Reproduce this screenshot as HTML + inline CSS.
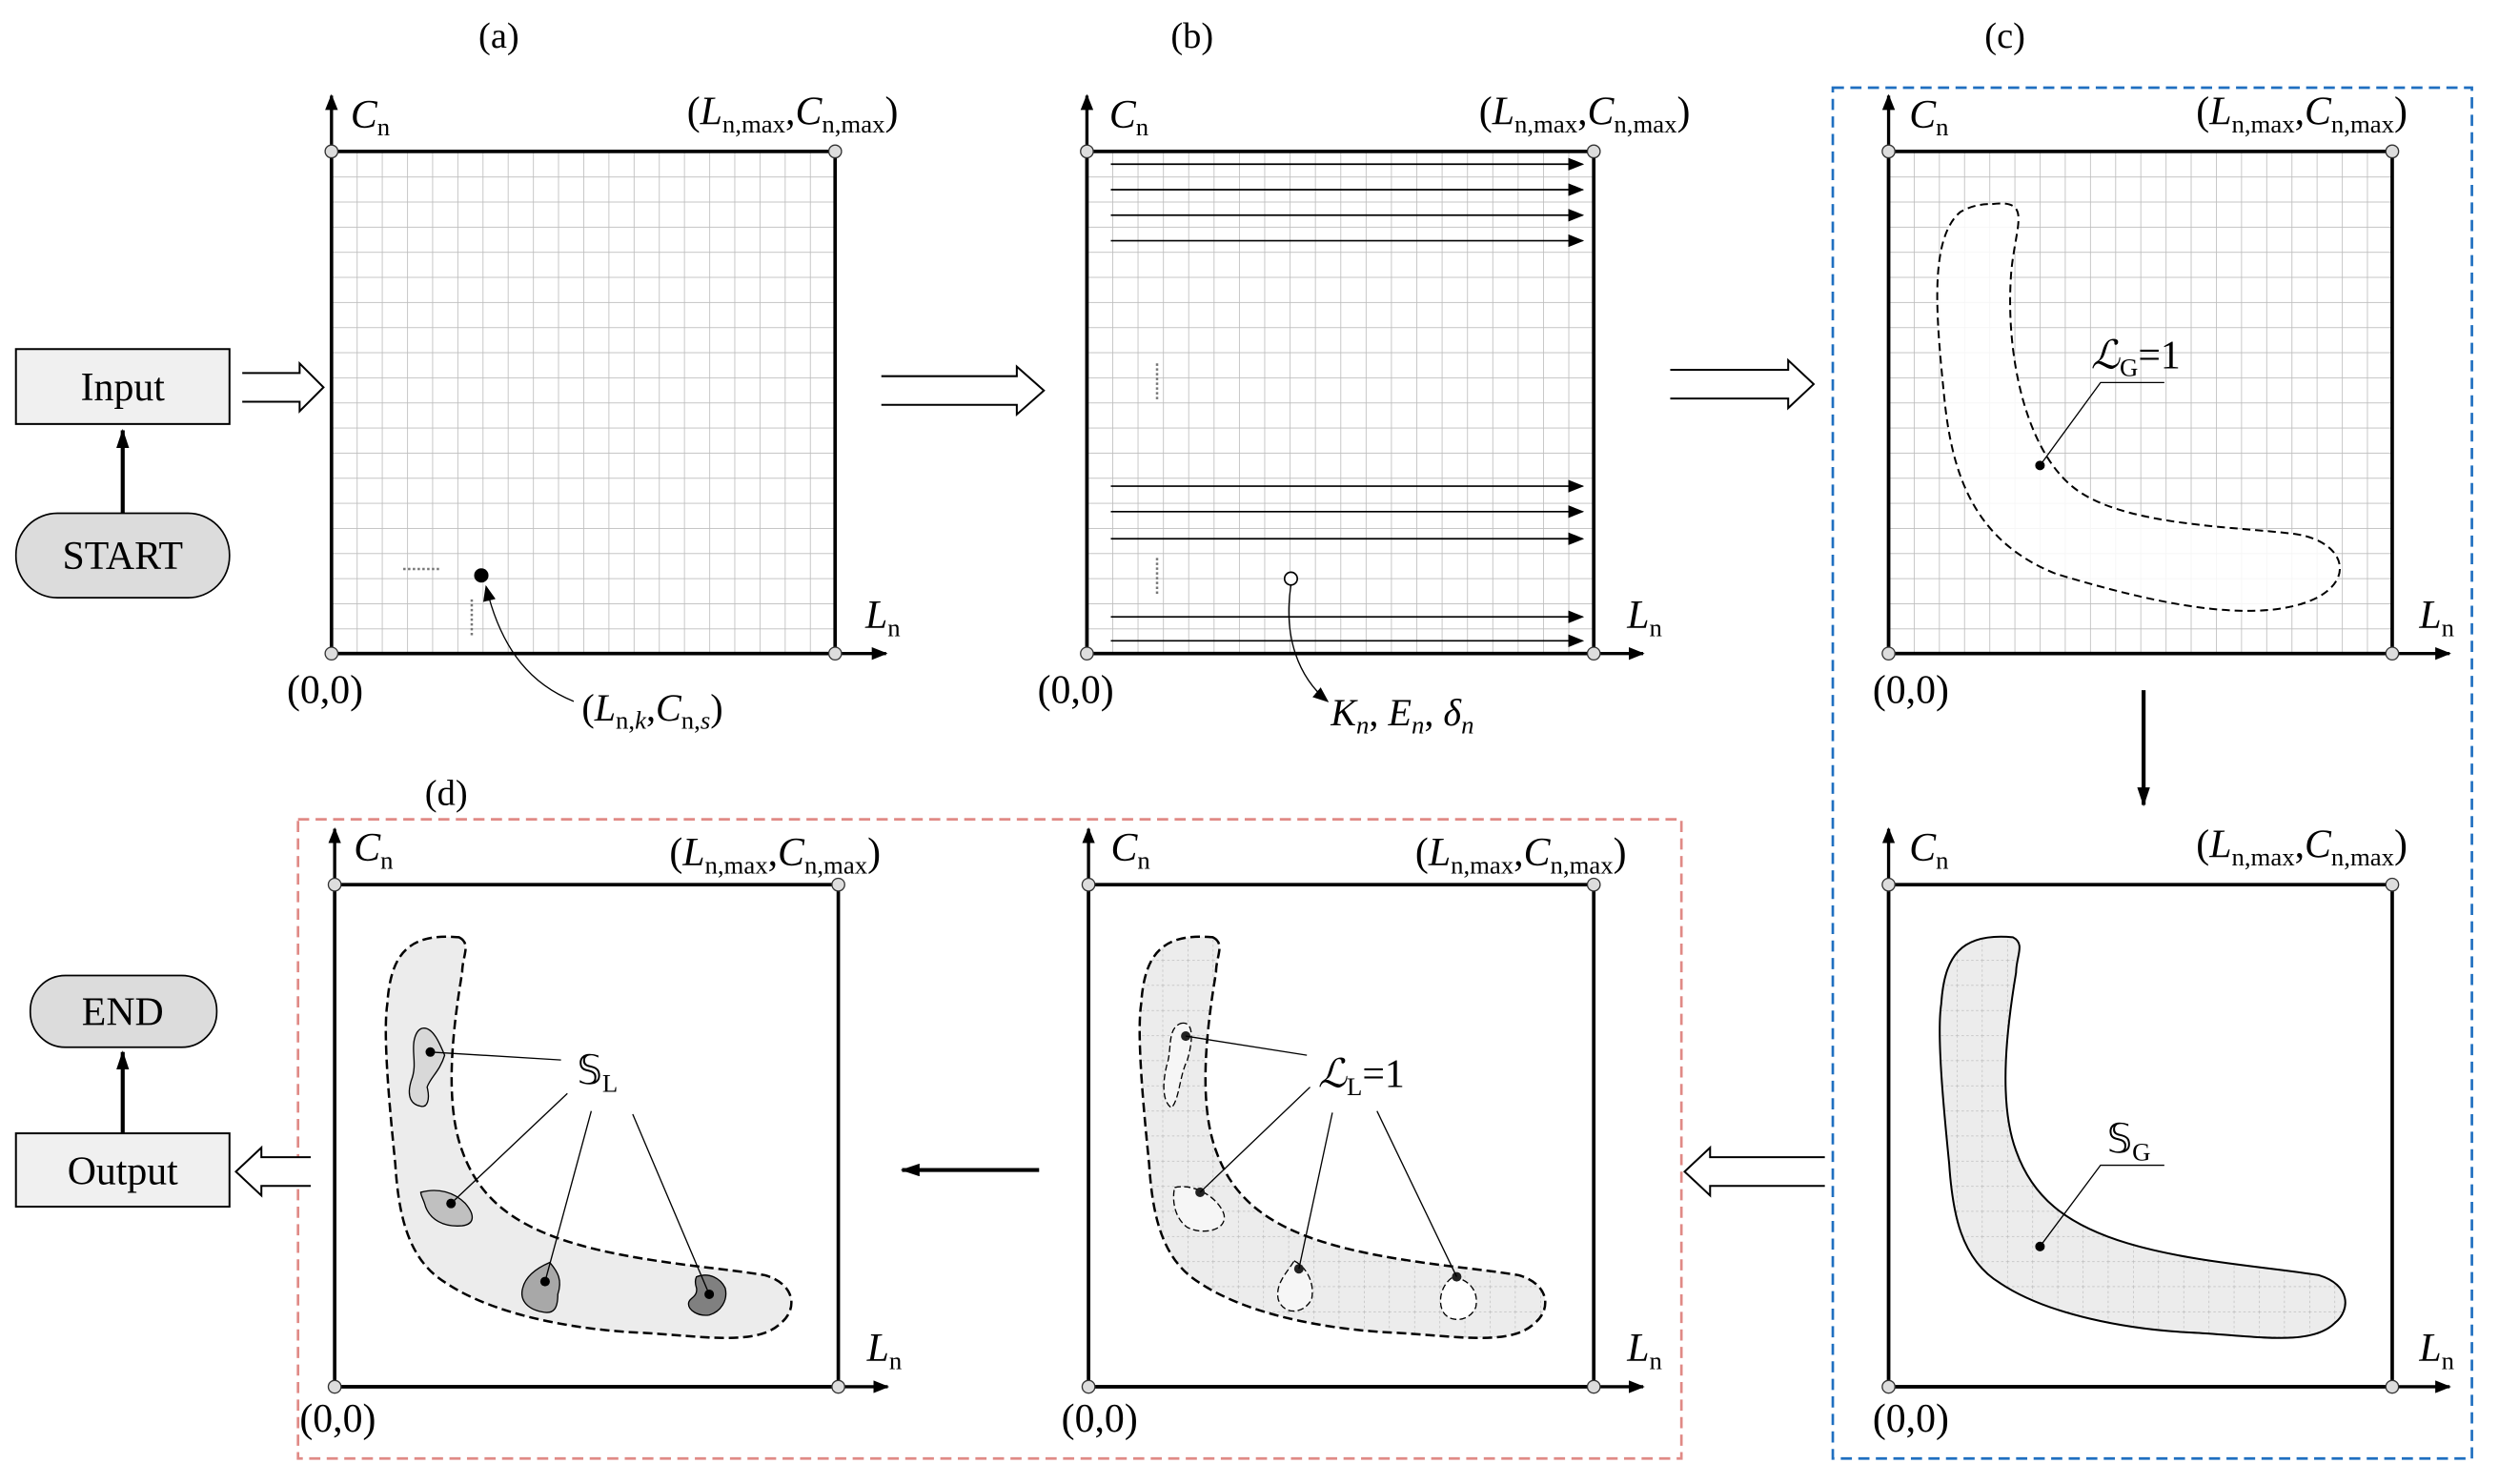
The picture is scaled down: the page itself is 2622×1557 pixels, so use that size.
<!DOCTYPE html>
<html><head><meta charset="utf-8"><style>
html,body{margin:0;padding:0;background:#fff;width:2622px;height:1557px;overflow:hidden}
svg{display:block}
text,tspan{font-family:"Liberation Serif","Times New Roman",serif}
text{fill:#000}
</style></head><body>
<svg width="2622" height="1557" viewBox="0 0 1568 931" preserveAspectRatio="none" xmlns="http://www.w3.org/2000/svg" font-family="Liberation Serif, serif">
<defs>
<pattern id="gA" x="208" y="95" width="15.8" height="15.75" patternUnits="userSpaceOnUse"><path d="M0,0H15.8M0,0V15.75" stroke="#bdbdbd" stroke-width="1" fill="none"/></pattern>
<pattern id="gB" x="682" y="95" width="15.9" height="15.75" patternUnits="userSpaceOnUse"><path d="M0,0H15.9M0,0V15.75" stroke="#bdbdbd" stroke-width="1" fill="none"/></pattern>
<pattern id="gC" x="1185" y="95" width="15.8" height="15.75" patternUnits="userSpaceOnUse"><path d="M0,0H15.8M0,0V15.75" stroke="#bdbdbd" stroke-width="1" fill="none"/></pattern>
<pattern id="gE" x="1185" y="555" width="15.8" height="15.75" patternUnits="userSpaceOnUse"><rect width="15.8" height="15.75" fill="#ececec"/><path d="M0,0H15.8M0,0V15.75" stroke="#b5b5b5" stroke-width="0.7" stroke-dasharray="1.5,1.5" fill="none"/></pattern>
<pattern id="gM" x="683" y="555" width="15.8" height="15.75" patternUnits="userSpaceOnUse"><rect width="15.8" height="15.75" fill="#ececec"/><path d="M0,0H15.8M0,0V15.75" stroke="#b5b5b5" stroke-width="0.7" stroke-dasharray="1.5,1.5" fill="none"/></pattern>
<marker id="ah" markerWidth="10" markerHeight="8" refX="9" refY="4" orient="auto" markerUnits="userSpaceOnUse"><path d="M0,0L10,4L0,8Z" fill="#000"/></marker>
<marker id="ahs" markerWidth="12" markerHeight="8" refX="11" refY="4" orient="auto" markerUnits="userSpaceOnUse"><path d="M0,0L12,4L0,8Z" fill="#000"/></marker>
<path id="blob" d="M288,588 C296,592 290,600 290,610 C285,640 278,690 290,722 C300,750 320,768 360,780 C400,792 450,795 480,800 C500,806 500,822 490,830 C475,845 440,838 400,836 C360,834 310,825 280,805 C255,790 250,760 248,730 C245,700 240,650 243,630 C245,600 255,585 288,588 Z"/>
</defs>

<text x="313" y="30" font-size="23" text-anchor="middle">(a)</text>
<text x="748" y="30" font-size="23" text-anchor="middle">(b)</text>
<text x="1258" y="30" font-size="23" text-anchor="middle">(c)</text>
<text x="280" y="505" font-size="23" text-anchor="middle">(d)</text>

<rect x="1150" y="55" width="401" height="860" fill="none" stroke="#1f6fc0" stroke-width="1.6" stroke-dasharray="7,4"/>
<rect x="187" y="514" width="868" height="401" fill="none" stroke="#e08a86" stroke-width="1.6" stroke-dasharray="7,4"/>

<rect x="10" y="219" width="134" height="47" fill="#f0f0f0" stroke="#000" stroke-width="1.2"/>
<text x="77" y="251" font-size="25" text-anchor="middle">Input</text>
<rect x="10" y="322" width="134" height="53" rx="26" fill="#dcdcdc" stroke="#000" stroke-width="1"/>
<text x="77" y="357" font-size="25" text-anchor="middle">START</text>
<line x1="77" y1="322" x2="77" y2="270" stroke="#000" stroke-width="2.5" marker-end="url(#ahs)"/>
<rect x="19" y="612" width="117" height="45" rx="22" fill="#dcdcdc" stroke="#000" stroke-width="1"/>
<text x="77" y="643" font-size="25" text-anchor="middle">END</text>
<rect x="10" y="711" width="134" height="46" fill="#f0f0f0" stroke="#000" stroke-width="1.2"/>
<text x="77" y="743" font-size="25" text-anchor="middle">Output</text>
<line x1="77" y1="711" x2="77" y2="660" stroke="#000" stroke-width="2.5" marker-end="url(#ahs)"/>

<path d="M152,234H188V228L203,243L188,258V252H152" fill="#fff" stroke="#000" stroke-width="1.2"/>
<path d="M553,236H638V230L655,245L638,260V254H553" fill="#fff" stroke="#000" stroke-width="1.2"/>
<path d="M1048,232H1122V226L1138,241L1122,256V250H1048" fill="#fff" stroke="#000" stroke-width="1.2"/>
<path d="M1145,726H1073V720L1057,735L1073,750V744H1145" fill="#fff" stroke="#000" stroke-width="1.2"/>
<path d="M195,726H164V720L148,735L164,750V744H195" fill="#fff" stroke="#000" stroke-width="1.2"/>
<line x1="1345" y1="433" x2="1345" y2="505" stroke="#000" stroke-width="2.5" marker-end="url(#ahs)"/>
<line x1="652" y1="734" x2="566" y2="734" stroke="#000" stroke-width="2.5" marker-end="url(#ahs)"/>

<!-- panel a -->
<rect x="208" y="95" width="316" height="315" fill="url(#gA)"/>
<rect x="208" y="95" width="316" height="315" fill="none" stroke="#000" stroke-width="2.2"/>
<line x1="208" y1="410" x2="208" y2="60" stroke="#000" stroke-width="2" marker-end="url(#ah)"/>
<line x1="208" y1="410" x2="556" y2="410" stroke="#000" stroke-width="2" marker-end="url(#ah)"/>
<line x1="253" y1="357" x2="277" y2="357" stroke="#777" stroke-width="1.5" stroke-dasharray="1.5,1.5"/>
<line x1="296" y1="376" x2="296" y2="400" stroke="#777" stroke-width="1.5" stroke-dasharray="1.5,1.5"/>
<circle cx="302" cy="361" r="4.5" fill="#000"/>
<path d="M360,440 C335,430 315,410 305,368" fill="none" stroke="#000" stroke-width="0.8" marker-end="url(#ah)"/>
<text x="365" y="452" font-size="24">(<tspan font-style="italic">L</tspan><tspan font-size="16" dy="5">n,</tspan><tspan font-size="16" font-style="italic">k</tspan><tspan dy="-5">,</tspan><tspan font-style="italic">C</tspan><tspan font-size="16" dy="5">n,</tspan><tspan font-size="16" font-style="italic">s</tspan><tspan dy="-5">)</tspan></text>

<!-- panel b -->
<rect x="682" y="95" width="318" height="315" fill="url(#gB)"/>
<rect x="682" y="95" width="318" height="315" fill="none" stroke="#000" stroke-width="2.2"/>
<line x1="682" y1="410" x2="682" y2="60" stroke="#000" stroke-width="2" marker-end="url(#ah)"/>
<line x1="682" y1="410" x2="1031" y2="410" stroke="#000" stroke-width="2" marker-end="url(#ah)"/>
<g stroke="#000" stroke-width="1" marker-end="url(#ah)">
<line x1="697" y1="103" x2="993" y2="103"/><line x1="697" y1="119" x2="993" y2="119"/>
<line x1="697" y1="135" x2="993" y2="135"/><line x1="697" y1="151" x2="993" y2="151"/>
<line x1="697" y1="305" x2="993" y2="305"/><line x1="697" y1="321" x2="993" y2="321"/>
<line x1="697" y1="338" x2="993" y2="338"/><line x1="697" y1="387" x2="993" y2="387"/>
<line x1="697" y1="402" x2="993" y2="402"/>
</g>
<line x1="726" y1="228" x2="726" y2="252" stroke="#777" stroke-width="1.5" stroke-dasharray="1.5,1.5"/>
<line x1="726" y1="350" x2="726" y2="374" stroke="#777" stroke-width="1.5" stroke-dasharray="1.5,1.5"/>
<circle cx="810" cy="363" r="4" fill="#fff" stroke="#000" stroke-width="1"/>
<path d="M810,367 C805,400 815,425 833,440" fill="none" stroke="#000" stroke-width="0.8" marker-end="url(#ah)"/>
<text x="835" y="455" font-size="24" font-style="italic">K<tspan font-size="16" dy="5">n</tspan><tspan dy="-5" font-style="normal">,  </tspan>E<tspan font-size="16" dy="5">n</tspan><tspan dy="-5" font-style="normal">,  </tspan>δ<tspan font-size="16" dy="5">n</tspan></text>

<!-- panel c -->
<rect x="1185" y="95" width="316" height="315" fill="url(#gC)"/>
<path d="M1250,128 C1275,125 1265,140 1262,170 C1258,220 1270,280 1300,305 C1330,330 1400,330 1440,335 C1475,340 1480,370 1440,380 C1400,390 1340,375 1290,360 C1240,340 1225,300 1220,250 C1215,200 1210,150 1230,133 C1237,129 1243,128 1250,128 Z" fill="#fff" fill-opacity="0.85" stroke="#000" stroke-width="1.2" stroke-dasharray="5,3"/>
<rect x="1185" y="95" width="316" height="315" fill="none" stroke="#000" stroke-width="2.2"/>
<line x1="1185" y1="410" x2="1185" y2="60" stroke="#000" stroke-width="2" marker-end="url(#ah)"/>
<line x1="1185" y1="410" x2="1537" y2="410" stroke="#000" stroke-width="2" marker-end="url(#ah)"/>
<circle cx="1280" cy="292" r="3" fill="#000"/>
<polyline points="1280,292 1318,240 1358,240" fill="none" stroke="#000" stroke-width="0.8"/>
<text x="1312" y="231" font-size="25"><tspan font-family="DejaVu Serif" font-style="italic">ℒ</tspan><tspan font-size="16" dy="5">G</tspan><tspan dy="-5">=1</tspan></text>

<!-- bottom right -->
<use href="#blob" transform="translate(975,0)" fill="url(#gE)" stroke="#000" stroke-width="1.2"/>
<rect x="1185" y="555" width="316" height="315" fill="none" stroke="#000" stroke-width="2.2"/>
<line x1="1185" y1="870" x2="1185" y2="520" stroke="#000" stroke-width="2" marker-end="url(#ah)"/>
<line x1="1185" y1="870" x2="1537" y2="870" stroke="#000" stroke-width="2" marker-end="url(#ah)"/>
<circle cx="1280" cy="782" r="3" fill="#000"/>
<polyline points="1280,782 1318,731 1358,731" fill="none" stroke="#000" stroke-width="0.8"/>
<text x="1322" y="723" font-size="25"><tspan font-family="DejaVu Sans">𝕊</tspan><tspan font-size="16" dy="5">G</tspan></text>

<!-- bottom middle -->
<use href="#blob" transform="translate(473,0)" fill="url(#gM)" stroke="#000" stroke-width="1.5" stroke-dasharray="6,3"/>
<rect x="683" y="555" width="317" height="315" fill="none" stroke="#000" stroke-width="2.2"/>
<line x1="683" y1="870" x2="683" y2="520" stroke="#000" stroke-width="2" marker-end="url(#ah)"/>
<line x1="683" y1="870" x2="1031" y2="870" stroke="#000" stroke-width="2" marker-end="url(#ah)"/>
<g fill="#f6f6f6" stroke="#000" stroke-width="0.8" stroke-dasharray="4,2">
<path d="M741,642 C750,640 748,655 745,665 C740,675 740,690 735,695 C728,690 730,675 733,665 C735,655 733,645 741,642Z"/>
<path d="M737,745 C750,742 765,752 768,762 C770,772 755,775 745,770 C738,765 735,755 737,745Z"/>
<path d="M812,791 C820,795 825,805 823,815 C818,825 805,825 802,815 C800,805 808,798 812,791Z"/>
<path d="M912,801 C922,803 928,810 926,820 C922,830 908,830 905,822 C902,815 905,805 912,801Z" fill="#fff"/>
</g>
<g fill="#222"><circle cx="744" cy="650" r="3"/><circle cx="753" cy="748" r="3"/><circle cx="815" cy="796" r="3"/><circle cx="914" cy="801" r="3"/></g>
<g stroke="#000" stroke-width="0.8">
<line x1="744" y1="650" x2="820" y2="662"/><line x1="753" y1="748" x2="822" y2="682"/>
<line x1="815" y1="796" x2="836" y2="698"/><line x1="914" y1="801" x2="864" y2="697"/>
</g>
<text x="827" y="682" font-size="25"><tspan font-family="DejaVu Serif" font-style="italic">ℒ</tspan><tspan font-size="16" dy="5">L</tspan><tspan dy="-5">=1</tspan></text>

<!-- bottom left -->
<use href="#blob" fill="#ececec" stroke="#000" stroke-width="1.5" stroke-dasharray="6,3"/>
<rect x="210" y="555" width="316" height="315" fill="none" stroke="#000" stroke-width="2.2"/>
<line x1="210" y1="870" x2="210" y2="520" stroke="#000" stroke-width="2" marker-end="url(#ah)"/>
<line x1="210" y1="870" x2="557" y2="870" stroke="#000" stroke-width="2" marker-end="url(#ah)"/>
<g stroke="#000" stroke-width="0.8">
<path d="M266,645 C272,645 276,655 279,662 C276,672 270,676 268,682 C270,690 268,695 264,694 C258,693 255,688 258,678 C262,668 258,660 260,652 C261,648 263,645 266,645Z" fill="#d8d8d8"/>
<path d="M264,748 C275,745 285,748 292,755 C298,762 298,768 290,769 C278,770 270,765 267,757 C266,753 264,750 264,748Z" fill="#c0c0c0"/>
<path d="M345,792 C350,798 353,803 350,812 C350,820 348,825 340,823 C330,821 326,815 328,808 C330,800 338,795 345,792Z" fill="#a8a8a8"/>
<path d="M437,801 C445,798 452,802 455,808 C457,816 452,823 445,825 C438,826 432,822 432,818 C432,814 438,814 437,808 C436,805 436,803 437,801Z" fill="#808080"/>
</g>
<g fill="#000"><circle cx="270" cy="660" r="3"/><circle cx="283" cy="755" r="3"/><circle cx="342" cy="804" r="3"/><circle cx="445" cy="812" r="3"/></g>
<g stroke="#000" stroke-width="0.8">
<line x1="270" y1="660" x2="352" y2="665"/><line x1="283" y1="755" x2="356" y2="686"/>
<line x1="342" y1="804" x2="371" y2="697"/><line x1="445" y1="812" x2="397" y2="699"/>
</g>
<text x="362" y="680" font-size="25"><tspan font-family="DejaVu Sans">𝕊</tspan><tspan font-size="16" dy="5">L</tspan></text>

<g fill="#ddd" stroke="#333" stroke-width="0.8">
<circle cx="208" cy="95" r="4"/><circle cx="524" cy="95" r="4"/><circle cx="208" cy="410" r="4"/><circle cx="524" cy="410" r="4"/>
<circle cx="682" cy="95" r="4"/><circle cx="1000" cy="95" r="4"/><circle cx="682" cy="410" r="4"/><circle cx="1000" cy="410" r="4"/>
<circle cx="1185" cy="95" r="4"/><circle cx="1501" cy="95" r="4"/><circle cx="1185" cy="410" r="4"/><circle cx="1501" cy="410" r="4"/>
<circle cx="1185" cy="555" r="4"/><circle cx="1501" cy="555" r="4"/><circle cx="1185" cy="870" r="4"/><circle cx="1501" cy="870" r="4"/>
<circle cx="683" cy="555" r="4"/><circle cx="1000" cy="555" r="4"/><circle cx="683" cy="870" r="4"/><circle cx="1000" cy="870" r="4"/>
<circle cx="210" cy="555" r="4"/><circle cx="526" cy="555" r="4"/><circle cx="210" cy="870" r="4"/><circle cx="526" cy="870" r="4"/>
</g>

<g font-size="25">
<text x="220" y="80"><tspan font-style="italic">C</tspan><tspan font-size="16" dy="5">n</tspan></text>
<text x="431" y="78">(<tspan font-style="italic">L</tspan><tspan font-size="16" dy="5">n,max</tspan><tspan dy="-5">,</tspan><tspan font-style="italic">C</tspan><tspan font-size="16" dy="5">n,max</tspan><tspan dy="-5">)</tspan></text>
<text x="543" y="394"><tspan font-style="italic">L</tspan><tspan font-size="16" dy="5">n</tspan></text>
<text x="180" y="441">(0,0)</text>

<text x="696" y="80"><tspan font-style="italic">C</tspan><tspan font-size="16" dy="5">n</tspan></text>
<text x="928" y="78">(<tspan font-style="italic">L</tspan><tspan font-size="16" dy="5">n,max</tspan><tspan dy="-5">,</tspan><tspan font-style="italic">C</tspan><tspan font-size="16" dy="5">n,max</tspan><tspan dy="-5">)</tspan></text>
<text x="1021" y="394"><tspan font-style="italic">L</tspan><tspan font-size="16" dy="5">n</tspan></text>
<text x="651" y="441">(0,0)</text>

<text x="1198" y="80"><tspan font-style="italic">C</tspan><tspan font-size="16" dy="5">n</tspan></text>
<text x="1378" y="78">(<tspan font-style="italic">L</tspan><tspan font-size="16" dy="5">n,max</tspan><tspan dy="-5">,</tspan><tspan font-style="italic">C</tspan><tspan font-size="16" dy="5">n,max</tspan><tspan dy="-5">)</tspan></text>
<text x="1518" y="394"><tspan font-style="italic">L</tspan><tspan font-size="16" dy="5">n</tspan></text>
<text x="1175" y="441">(0,0)</text>

<text x="1198" y="540"><tspan font-style="italic">C</tspan><tspan font-size="16" dy="5">n</tspan></text>
<text x="1378" y="538">(<tspan font-style="italic">L</tspan><tspan font-size="16" dy="5">n,max</tspan><tspan dy="-5">,</tspan><tspan font-style="italic">C</tspan><tspan font-size="16" dy="5">n,max</tspan><tspan dy="-5">)</tspan></text>
<text x="1518" y="854"><tspan font-style="italic">L</tspan><tspan font-size="16" dy="5">n</tspan></text>
<text x="1175" y="898">(0,0)</text>

<text x="697" y="540"><tspan font-style="italic">C</tspan><tspan font-size="16" dy="5">n</tspan></text>
<text x="888" y="543">(<tspan font-style="italic">L</tspan><tspan font-size="16" dy="5">n,max</tspan><tspan dy="-5">,</tspan><tspan font-style="italic">C</tspan><tspan font-size="16" dy="5">n,max</tspan><tspan dy="-5">)</tspan></text>
<text x="1021" y="854"><tspan font-style="italic">L</tspan><tspan font-size="16" dy="5">n</tspan></text>
<text x="666" y="898">(0,0)</text>

<text x="222" y="540"><tspan font-style="italic">C</tspan><tspan font-size="16" dy="5">n</tspan></text>
<text x="420" y="543">(<tspan font-style="italic">L</tspan><tspan font-size="16" dy="5">n,max</tspan><tspan dy="-5">,</tspan><tspan font-style="italic">C</tspan><tspan font-size="16" dy="5">n,max</tspan><tspan dy="-5">)</tspan></text>
<text x="544" y="854"><tspan font-style="italic">L</tspan><tspan font-size="16" dy="5">n</tspan></text>
<text x="188" y="898">(0,0)</text>
</g>
</svg>
</body></html>
